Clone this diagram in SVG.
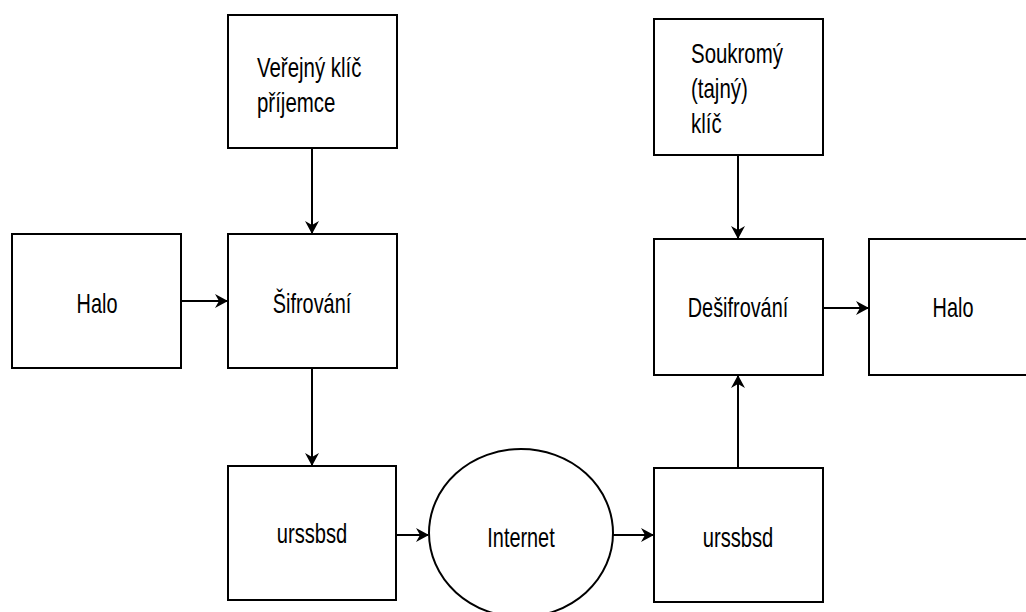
<svg xmlns="http://www.w3.org/2000/svg" width="1026" height="612" viewBox="0 0 1026 612">
<defs>
<style>
.box{fill:#fff;stroke:#000;stroke-width:2}
.t{font-family:"Liberation Sans",Arial,sans-serif;font-size:28px;fill:#000}
.c{text-anchor:middle}
.e{fill:none;stroke:#000;stroke-width:2}
</style>
<marker id="ah" viewBox="0 0 13 14" refX="12" refY="7" markerWidth="13" markerHeight="14" markerUnits="userSpaceOnUse" orient="auto">
<path d="M0,0 L13,7 L0,14 L4,7 Z" fill="#000"/>
</marker>
</defs>
<rect width="1026" height="612" fill="#fff"/>
<g id="connectors">
<path class="e" d="M312,148 V233" marker-end="url(#ah)"/>
<path class="e" d="M181,301 H227" marker-end="url(#ah)"/>
<path class="e" d="M312,368 V465" marker-end="url(#ah)"/>
<path class="e" d="M396,535 H428" marker-end="url(#ah)"/>
<path class="e" d="M613,535 H653" marker-end="url(#ah)"/>
<path class="e" d="M738,468 V376" marker-end="url(#ah)"/>
<path class="e" d="M738,155 V238" marker-end="url(#ah)"/>
<path class="e" d="M823,308 H868" marker-end="url(#ah)"/>
</g>
<g id="verejny">
<rect class="box" x="228" y="15" width="169" height="133"/>
<text class="t" transform="translate(257,77) scale(0.73,1)">Veřejný klíč</text>
<text class="t" transform="translate(257,112) scale(0.73,1)">příjemce</text>
</g>
<g id="soukromy">
<rect class="box" x="654" y="19" width="169" height="136"/>
<text class="t" transform="translate(691,63) scale(0.73,1)">Soukromý</text>
<text class="t" transform="translate(691,98) scale(0.73,1)">(tajný)</text>
<text class="t" transform="translate(691,133) scale(0.73,1)">klíč</text>
</g>
<g id="halo1">
<rect class="box" x="12" y="234" width="169" height="134"/>
<text class="t c" transform="translate(97,313) scale(0.71,1)">Halo</text>
</g>
<g id="sifrovani">
<rect class="box" x="228" y="234" width="169" height="134"/>
<text class="t c" transform="translate(312,313) scale(0.71,1)">Šifrování</text>
</g>
<g id="desifrovani">
<rect class="box" x="654" y="239" width="169" height="136"/>
<text class="t c" transform="translate(738,317) scale(0.71,1)">Dešifrování</text>
</g>
<g id="halo2">
<rect class="box" x="869" y="239" width="169" height="136"/>
<text class="t c" transform="translate(953,317) scale(0.71,1)">Halo</text>
</g>
<g id="urssbsd1">
<rect class="box" x="228" y="466" width="168" height="134"/>
<text class="t c" transform="translate(312,543) scale(0.72,1)">urssbsd</text>
</g>
<g id="internet">
<ellipse class="box" cx="521" cy="533" rx="92" ry="84"/>
<text class="t c" transform="translate(521,547) scale(0.71,1)">Internet</text>
</g>
<g id="urssbsd2">
<rect class="box" x="654" y="468" width="169" height="134"/>
<text class="t c" transform="translate(738,547) scale(0.72,1)">urssbsd</text>
</g>
</svg>
